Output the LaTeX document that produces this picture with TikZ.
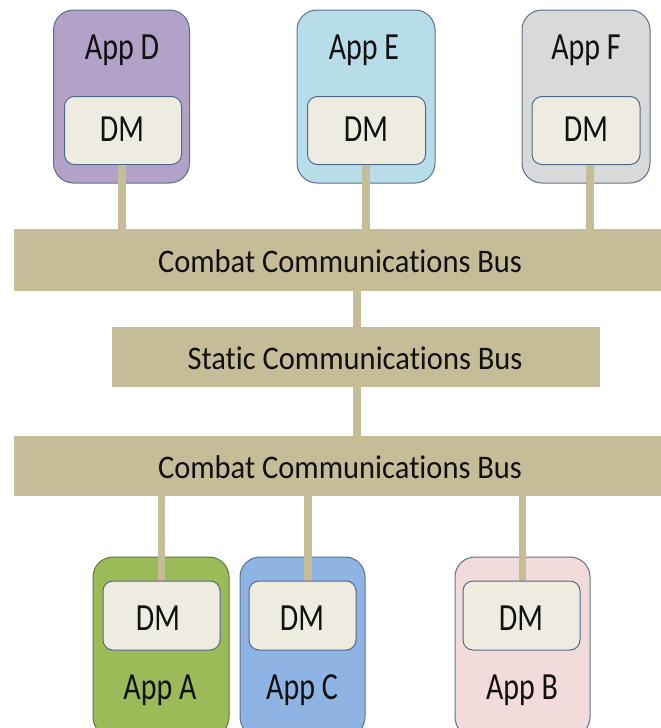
\documentclass[tikz,border=0pt]{standalone}
\usepackage{fontspec}
\usepackage{graphicx}
\setmainfont[Ligatures={NoCommon}]{Carlito}
\definecolor{bustan}{HTML}{C4BD97}
\definecolor{dmfill}{HTML}{EEECE1}
\definecolor{dmline}{HTML}{50698A}
\definecolor{appDfill}{HTML}{B3A2C7}
\definecolor{appEfill}{HTML}{B7DDE8}
\definecolor{appFfill}{HTML}{D9D9D9}
\definecolor{appAfill}{HTML}{9BBB59}
\definecolor{appCfill}{HTML}{8EB4E3}
\definecolor{appBfill}{HTML}{F2DCDB}
\definecolor{boxline}{HTML}{5B7090}
\definecolor{greenline}{HTML}{5E7A3A}
\definecolor{txt}{HTML}{111111}
\tikzset{
  appbox/.style={draw=boxline, line width=1pt, rounded corners=20pt, inner sep=0pt},
  dmbox/.style={draw=dmline, fill=dmfill, line width=1pt, rounded corners=10pt, inner sep=0pt},
  busbar/.style={fill=bustan, inner sep=0pt, text=txt, font=\fontsize{30.5}{34}\selectfont},
  conn/.style={draw=bustan, line width=7.5pt},
  lbl/.style={inner sep=0pt, text=txt, font=\fontsize{30}{34}\selectfont},
}
\newcommand{\tall}[1]{\scalebox{1}[1.28]{#1}}
\newcommand{\bustall}[1]{\scalebox{1}[1.08]{#1}}
\begin{document}
\begin{tikzpicture}[x=1pt,y=-1pt]
\useasboundingbox (0,0) rectangle (661,728);
% buses
\node[busbar, minimum width=647pt, minimum height=62pt] (busTop) at (337.5,260) {};
\node[busbar, inner sep=0pt] (busTopText) at (340,261) {\bustall{Combat Communications Bus}};
\node[busbar, minimum width=488pt, minimum height=60pt] (busStatic) at (356,357) {};
\node[busbar] (busStaticText) at (355,358) {\bustall{Static Communications Bus}};
\node[busbar, minimum width=647pt, minimum height=60pt] (busBot) at (337.5,466) {};
\node[busbar] (busBotText) at (340,467) {\bustall{Combat Communications Bus}};
% top apps
\node[appbox, fill=appDfill, minimum width=136pt, minimum height=173pt] (appD) at (121.5,96.5) {};
\node[lbl] (appDl) at (122,50) {\tall{App D}};
\node[dmbox, minimum width=117pt, minimum height=68pt] (dmD) at (123,130.5) {};
\node[lbl] (dmDl) at (122,129) {\tall{DM}};
\node[appbox, fill=appEfill, minimum width=138pt, minimum height=173pt] (appE) at (366,96.5) {};
\node[lbl] (appEl) at (364,50) {\tall{App E}};
\node[dmbox, minimum width=118pt, minimum height=68pt] (dmE) at (366.5,130.5) {};
\node[lbl] (dmEl) at (366,129) {\tall{DM}};
\node[appbox, fill=appFfill, minimum width=128pt, minimum height=173pt] (appF) at (586,96.5) {};
\node[lbl] (appFl) at (586,50) {\tall{App F}};
\node[dmbox, minimum width=108pt, minimum height=68pt] (dmF) at (586,130.5) {};
\node[lbl] (dmFl) at (586,129) {\tall{DM}};
% bottom apps
\node[appbox, draw=greenline, fill=appAfill, minimum width=136pt, minimum height=180pt] (appA) at (161,647) {};
\node[lbl] (appAl) at (160,690) {\tall{App A}};
\node[appbox, fill=appCfill, minimum width=125pt, minimum height=180pt] (appC) at (302.5,647) {};
\node[lbl] (appCl) at (302,690) {\tall{App C}};
\node[appbox, fill=appBfill, minimum width=135pt, minimum height=180pt] (appB) at (522.5,647) {};
\node[lbl] (appBl) at (522,690) {\tall{App B}};
% connectors
\draw[conn] (dmD.south -| 122,0) -- (busTop.north -| 122,0);
\draw[conn] (dmE.south -| 366,0) -- (busTop.north -| 366,0);
\draw[conn] (dmF.south -| 590,0) -- (busTop.north -| 590,0);
\draw[conn] (busTop.south -| 357,0) -- (busStatic.north -| 357,0);
\draw[conn] (busStatic.south -| 357,0) -- (busBot.north -| 357,0);
\draw[conn] (busBot.south -| 161.5,0) -- (appA.north -| 161.5,0) -- ++(0,25);
\draw[conn] (busBot.south -| 308,0) -- (appC.north -| 308,0) -- ++(0,25);
\draw[conn] (busBot.south -| 522.5,0) -- (appB.north -| 522.5,0) -- ++(0,25);
% bottom DMs
\node[dmbox, minimum width=117pt, minimum height=69pt] (dmA) at (161.5,615.5) {};
\node[lbl] (dmAl) at (158,618) {\tall{DM}};
\node[dmbox, minimum width=107pt, minimum height=69pt] (dmC) at (302.5,615.5) {};
\node[lbl] (dmCl) at (302,618) {\tall{DM}};
\node[dmbox, minimum width=117pt, minimum height=69pt] (dmB) at (521.5,615.5) {};
\node[lbl] (dmBl) at (521,618) {\tall{DM}};
\end{tikzpicture}
\end{document}
